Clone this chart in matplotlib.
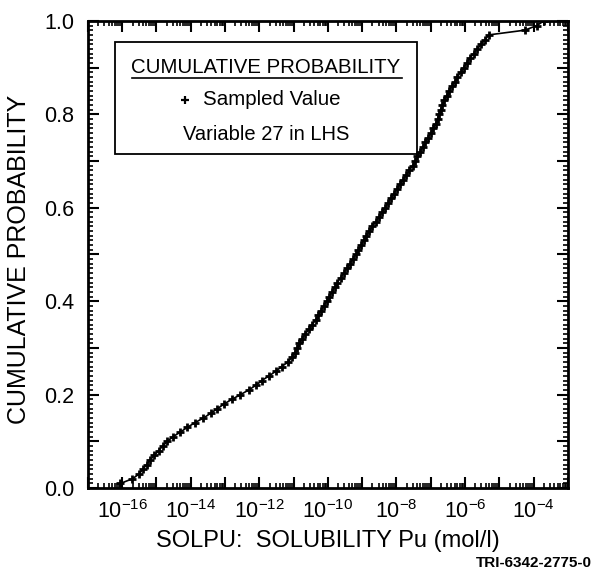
import numpy as np
import matplotlib.pyplot as plt
from matplotlib.ticker import FixedLocator, NullFormatter

# cumulative probability of each sampled value (100 LHS samples)
cum_prob = np.arange(1, 101) / 100.0

log_solpu = [
    -16.05, -15.70, -15.51, -15.40, -15.29, -15.19, -15.06, -14.94, -14.82, -14.68,
    -14.52, -14.30, -14.10, -13.88, -13.63, -13.42, -13.22, -13.03, -12.80, -12.55,
    -12.31, -12.10, -11.93, -11.72, -11.52, -11.35, -11.16, -11.05, -10.97, -10.90,
    -10.83, -10.75, -10.66, -10.55, -10.45, -10.36, -10.28, -10.20, -10.12, -10.04,
    -9.96, -9.88, -9.80, -9.72, -9.63, -9.54, -9.45, -9.36, -9.27, -9.19,
    -9.11, -9.03, -8.96, -8.88, -8.79, -8.70, -8.60, -8.51, -8.42, -8.33,
    -8.25, -8.17, -8.08, -7.99, -7.90, -7.81, -7.71, -7.62, -7.53, -7.46,
    -7.39, -7.31, -7.23, -7.16, -7.08, -7.00, -6.93, -6.86, -6.80, -6.76,
    -6.71, -6.66, -6.60, -6.54, -6.47, -6.39, -6.30, -6.22, -6.13, -6.04,
    -5.95, -5.86, -5.75, -5.64, -5.52, -5.41, -5.30, -4.26, -3.90, -3.70,
]
solpu = 10.0 ** np.array(log_solpu)

x_exponents = list(range(-17, -2))
label_exponents = [-16, -14, -12, -10, -8, -6, -4]
y_ticks = [0.0, 0.2, 0.4, 0.6, 0.8, 1.0]

plt.rcParams['font.family'] = ['Liberation Sans', 'DejaVu Sans']
plt.rcParams['mathtext.fontset'] = 'custom'
plt.rcParams['mathtext.rm'] = 'Liberation Sans'
plt.rcParams['mathtext.default'] = 'regular'

fig = plt.figure(figsize=(5.94, 5.79), dpi=100)
ax = fig.add_axes([0.148, 0.157, 0.808, 0.807])

ax.plot(solpu, cum_prob, color='black', lw=1.2, marker='+', ms=5.5, mew=2.0)

ax.set_xscale('log')
ax.set_xlim(1e-17, 1e-3)
ax.set_ylim(0, 1.0)

ax.xaxis.set_major_locator(FixedLocator([10.0 ** e for e in x_exponents]))
ax.set_xticklabels(['$10^{%d}$' % e if e in label_exponents else '' for e in x_exponents])
ax.xaxis.set_minor_locator(FixedLocator([m * 10.0 ** e for e in x_exponents[:-1] for m in range(2, 10)]))
ax.xaxis.set_minor_formatter(NullFormatter())

ax.yaxis.set_major_locator(FixedLocator(np.arange(0, 1.01, 0.1)))
ax.set_yticklabels(['%.1f' % v if round(v, 1) in y_ticks else '' for v in np.arange(0, 1.01, 0.1)])
ax.yaxis.set_minor_locator(FixedLocator(np.arange(0, 1.001, 0.01)))

ax.tick_params(which='both', direction='in', top=True, right=True, width=1.5)
ax.tick_params(which='major', length=8, labelsize=15.5)
ax.tick_params(axis='y', which='major', pad=10)
ax.tick_params(axis='x', which='major', pad=9)
ax.tick_params(which='minor', length=3.5, width=1.2)
for s in ax.spines.values():
    s.set_linewidth(2)

ax.set_xlabel('SOLPU:  SOLUBILITY Pu (mol/l)', fontsize=17, labelpad=5)
fig.text(0.032, 0.552, 'CUMULATIVE PROBABILITY', rotation=90, ha='center', va='center',
         fontsize=18)

# legend box
ax.add_patch(plt.Rectangle((0.056, 0.715), 0.629, 0.240, transform=ax.transAxes,
                           fill=False, lw=1.3, color='black', zorder=5))
ax.text(0.371, 0.901, 'CUMULATIVE PROBABILITY', transform=ax.transAxes,
        ha='center', va='center', fontsize=14.7)
ax.plot([0.092, 0.654], [0.877, 0.877], transform=ax.transAxes, color='black', lw=1.2)
ax.plot([0.202], [0.831], transform=ax.transAxes, color='black', marker='+', ms=6, mew=1.6)
ax.text(0.240, 0.831, 'Sampled Value', transform=ax.transAxes,
        ha='left', va='center', fontsize=14.8)
ax.text(0.371, 0.756, 'Variable 27 in LHS', transform=ax.transAxes,
        ha='center', va='center', fontsize=14.5)

fig.text(0.996, 0.028, 'TRI-6342-2775-0', ha='right', va='center', fontsize=11,
         fontweight='bold')

plt.savefig('out.png', dpi=100)
